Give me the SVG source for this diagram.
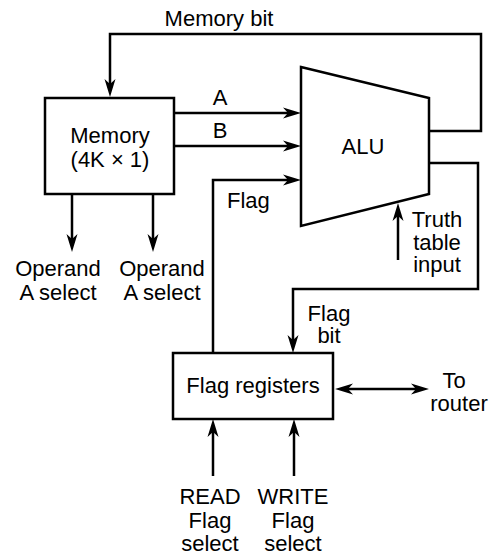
<svg xmlns="http://www.w3.org/2000/svg" width="492" height="556" viewBox="0 0 492 556">
  <style>
    .box { fill: #fff; stroke: #000; stroke-width: 2.5; }
    .wire { fill: none; stroke: #000; stroke-width: 2.5; }
    .arr { marker-end: url(#head); }
    .both { marker-start: url(#head); marker-end: url(#head); }
    text { font-family: "Liberation Sans", Arial, Helvetica, sans-serif; font-size: 22px; fill: #000; }
    .c { text-anchor: middle; }
  </style>
  <defs>
    <!-- barbed arrowhead; its tip sits 12px beyond the end of the wire -->
    <marker id="head" viewBox="-6 -6 18 12" refX="0" refY="0" markerWidth="18" markerHeight="12" markerUnits="userSpaceOnUse" orient="auto-start-reverse">
      <path d="M12,0 L-6,-5.5 L-1,0 L-6,5.5 Z" fill="#000"/>
    </marker>
  </defs>

  <!-- connectors -->
  <g id="connectors">
    <path id="c-memory-bit" class="wire arr" d="M429,131 H481 V34 H110 V85"/>
    <path id="c-a" class="wire arr" d="M174,113 H289"/>
    <path id="c-b" class="wire arr" d="M174,146 H289"/>
    <path id="c-flag" class="wire arr" d="M213,353 V180 H289"/>
    <path id="c-flag-bit" class="wire arr" d="M429,163 H478 V289 H293 V341"/>
    <path id="c-truth" class="wire arr" d="M398,260 V215"/>
    <path id="c-opA1" class="wire arr" d="M72,194 V240"/>
    <path id="c-opA2" class="wire arr" d="M153,194 V240"/>
    <path id="c-router" class="wire both" d="M347,389 H417"/>
    <path id="c-read" class="wire arr" d="M213,476 V431"/>
    <path id="c-write" class="wire arr" d="M294,476 V431"/>

    <text class="c" x="219" y="26">Memory bit</text>
    <text class="c" x="220" y="105">A</text>
    <text class="c" x="220" y="138">B</text>
    <text x="227" y="208">Flag</text>
    <text class="c" x="329" y="321">Flag</text>
    <text class="c" x="329" y="343">bit</text>
    <text class="c" x="437" y="227">Truth</text>
    <text class="c" x="437" y="250">table</text>
    <text class="c" x="437" y="272">input</text>
    <text class="c" x="58" y="276">Operand</text>
    <text class="c" x="58" y="300">A select</text>
    <text class="c" x="162" y="276">Operand</text>
    <text class="c" x="162" y="300">A select</text>
    <text class="c" x="454" y="388">To</text>
    <text class="c" x="459" y="411">router</text>
    <text class="c" x="210" y="504">READ</text>
    <text class="c" x="210" y="528">Flag</text>
    <text class="c" x="210" y="551">select</text>
    <text class="c" x="293" y="504">WRITE</text>
    <text class="c" x="293" y="528">Flag</text>
    <text class="c" x="293" y="551">select</text>
  </g>

  <!-- memory -->
  <g id="memory">
    <rect class="box" x="45" y="98" width="129" height="96"/>
    <text class="c" x="110" y="143">Memory</text>
    <text class="c" x="110" y="167">(4K × 1)</text>
  </g>

  <!-- ALU -->
  <g id="alu">
    <polygon class="box" points="301,67 429,98 429,194 301,226"/>
    <text class="c" x="363" y="154">ALU</text>
  </g>

  <!-- flag registers -->
  <g id="flag-registers">
    <rect class="box" x="173" y="353" width="160" height="66"/>
    <text class="c" x="253" y="393">Flag registers</text>
  </g>
</svg>
